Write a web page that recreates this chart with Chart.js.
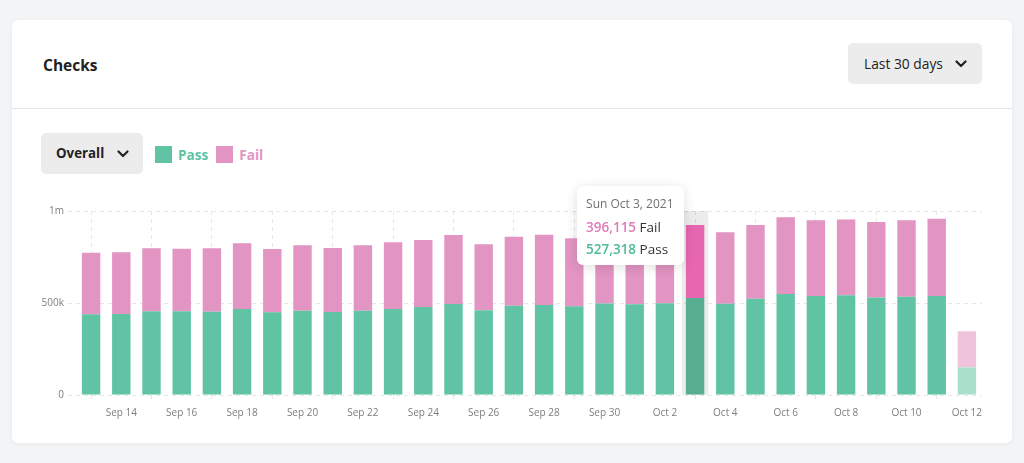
<!DOCTYPE html>
<html>
<head>
<meta charset="utf-8">
<script src="https://cdn.jsdelivr.net/npm/chart.js@4.4.0/dist/chart.umd.min.js"></script>
<style>
  html, body { margin: 0; padding: 0; }
  body {
    width: 1024px; height: 463px; overflow: hidden;
    background: #f3f4f6;
    font-family: 'Open Sans', 'Noto Sans', sans-serif;
    color: #222;
  }
  .card {
    position: absolute; left: 12px; top: 20px; width: 1000px; height: 423px;
    background: #fff; border-radius: 6px;
    box-shadow: 0 1px 4px rgba(0,0,0,0.05);
  }
  .title { position: absolute; left: 31px; top: 33px; font-size: 15.5px; font-weight: 700; line-height: 24px; }
  .divider { position: absolute; left: 0; right: 0; top: 88px; height: 1px; background: #e6e6e6; }
  .btn {
    position: absolute; height: 41px; line-height: 41px; background: #ececec;
    border-radius: 5px; box-sizing: border-box;
  }
  .btn svg { position: absolute; top: 17px; }
  .range { left: 836px; top: 23px; width: 134px; padding-left: 16px; font-size: 13.8px; font-weight: 500; }
  .range svg { left: 107px; }
  .overall { left: 29px; top: 113px; width: 102px; padding-left: 15px; font-size: 13.3px; font-weight: 700; }
  .overall svg { left: 76px; }
  .legend { position: absolute; left: 143px; top: 124px; height: 20px; display: flex; align-items: center; font-size: 13.6px; font-weight: 700; }
  .legend span.box { width: 17px; height: 17px; display: inline-block; margin-right: 6px; }
  .legend span.txt { margin-right: 8px; }
  .chart-wrap { position: absolute; left: 8px; top: 180px; width: 970px; height: 225px; }
  #tip {
    position: absolute; opacity: 0; background: #fff; border-radius: 6px;
    box-shadow: 0 2px 12px rgba(0,0,0,0.13); padding: 8px 10px 5px 9px;
    font-size: 13.5px; white-space: nowrap; pointer-events: none;
  }
  #tip .tip-title { color: #707070; font-size: 12px; line-height: 20px; margin-bottom: 2px; }
  #tip .tip-row { color: #333; line-height: 22px; }
  #tip b { font-weight: 600; }
</style>
</head>
<body>
<div class="card">
  <div class="title">Checks</div>
  <div class="btn range">Last 30 days
    <svg width="12" height="8" viewBox="0 0 12 8"><polyline points="1.5,1.5 6,6 10.5,1.5" fill="none" stroke="#222" stroke-width="2.2" stroke-linecap="round" stroke-linejoin="round"/></svg>
  </div>
  <div class="divider"></div>
  <div class="btn overall">Overall
    <svg width="12" height="8" viewBox="0 0 12 8"><polyline points="1.5,1.5 6,6 10.5,1.5" fill="none" stroke="#222" stroke-width="2.2" stroke-linecap="round" stroke-linejoin="round"/></svg>
  </div>
  <div class="legend" id="legend"></div>
  <div class="chart-wrap"><canvas id="checksChart"></canvas></div>
</div>
<div id="tip"></div>
<script>
// Dados do gráfico
const year = 2021;
const labels = ['Sep 13', 'Sep 14', 'Sep 15', 'Sep 16', 'Sep 17', 'Sep 18', 'Sep 19', 'Sep 20', 'Sep 21', 'Sep 22',
                'Sep 23', 'Sep 24', 'Sep 25', 'Sep 26', 'Sep 27', 'Sep 28', 'Sep 29', 'Sep 30', 'Oct 1', 'Oct 2',
                'Oct 3', 'Oct 4', 'Oct 5', 'Oct 6', 'Oct 7', 'Oct 8', 'Oct 9', 'Oct 10', 'Oct 11', 'Oct 12'];
const passValues = [438210, 440130, 455420, 454870, 453060, 467310, 449250, 458140, 451020, 457380,
                    467120, 478260, 495040, 460310, 485170, 489230, 482090, 497860, 493120, 498040,
                    527318, 496270, 523140, 549010, 538220, 542170, 529310, 534080, 538260, 150120];
const failValues = [335140, 335020, 342180, 340260, 344110, 357030, 344080, 355260, 348140, 356020,
                    363190, 364070, 375110, 359040, 374210, 382130, 370220, 362010, 361880, 372050,
                    396115, 388030, 401120, 417060, 411040, 411190, 411020, 415100, 419070, 196040];
const yTicks = [0, 500000, 1000000];
const yTickLabels = ['0', '500k', '1m'];
const highlightIndex = 20; // Oct 3

// Cores
const passColor = '#60c4a4', passHover = '#56ad90', passFaded = '#a9e0cc', passText = '#4dbb94';
const failColor = '#e294c2', failHover = '#e666b0', failFaded = '#f0c3dd', failText = '#e07bb8';
const gridColor = '#e6e6e6';
const lastIndex = labels.length - 1;

// Legenda
document.getElementById('legend').innerHTML =
  '<span class="box" style="background:' + passColor + '"></span><span class="txt" style="color:' + passColor + '">Pass</span>' +
  '<span class="box" style="background:' + failColor + '"></span><span class="txt" style="color:' + failColor + '">Fail</span>';

// Faixa cinza atrás da barra ativa
const hoverBand = {
  id: 'hoverBand',
  beforeDatasetsDraw(chart) {
    const active = chart.getActiveElements();
    if (!active.length) return;
    const xScale = chart.scales.x;
    const x = xScale.getPixelForValue(active[0].index);
    const w = xScale.width / labels.length * 0.87;
    const { ctx, chartArea } = chart;
    ctx.save();
    ctx.fillStyle = 'rgba(0,0,0,0.075)';
    ctx.fillRect(x - w / 2, chartArea.top, w, chartArea.bottom - chartArea.top);
    ctx.restore();
  }
};

// Tooltip em HTML
function externalTooltip(context) {
  const { chart, tooltip } = context;
  const el = document.getElementById('tip');
  if (tooltip.opacity === 0 || !tooltip.dataPoints) { el.style.opacity = 0; return; }
  const i = tooltip.dataPoints[0].dataIndex;
  const weekday = new Date(labels[i] + ', ' + year).toLocaleDateString('en-US', { weekday: 'short' });
  let html = '<div class="tip-title">' + weekday + ' ' + labels[i] + ', ' + year + '</div>';
  tooltip.dataPoints.slice().reverse().forEach(p => {
    const c = p.datasetIndex === 0 ? passText : failText;
    html += '<div class="tip-row"><b style="color:' + c + '">' + p.raw.toLocaleString('en-US') + '</b> ' + p.dataset.label + '</div>';
  });
  el.innerHTML = html;
  const rect = chart.canvas.getBoundingClientRect();
  el.style.opacity = 1;
  el.style.left = (rect.left + tooltip.caretX - el.offsetWidth - 12) + 'px';
  el.style.top = (rect.top + chart.chartArea.top - 25) + 'px';
}

Chart.defaults.font.family = "'Open Sans', 'Noto Sans', sans-serif";

const checksChart = new Chart(document.getElementById('checksChart').getContext('2d'), {
  type: 'bar',
  data: {
    labels: labels,
    datasets: [
      {
        label: 'Pass',
        data: passValues,
        backgroundColor: ctx => ctx.dataIndex === lastIndex ? passFaded : passColor,
        hoverBackgroundColor: passHover,
        categoryPercentage: 1,
        barPercentage: 0.61
      },
      {
        label: 'Fail',
        data: failValues,
        backgroundColor: ctx => ctx.dataIndex === lastIndex ? failFaded : failColor,
        hoverBackgroundColor: failHover,
        categoryPercentage: 1,
        barPercentage: 0.61
      }
    ]
  },
  options: {
    responsive: true,
    maintainAspectRatio: false,
    animation: false,
    events: [],
    layout: { padding: { top: 11, right: 8, left: 0, bottom: 0 } },
    interaction: { mode: 'index', intersect: false },
    plugins: {
      legend: { display: false },
      tooltip: { enabled: false, external: externalTooltip }
    },
    scales: {
      x: {
        stacked: true,
        afterFit: scale => { scale.height = 30; },
        grid: {
          offset: false,
          color: ctx => ctx.index % 2 === 0 ? gridColor : 'rgba(0,0,0,0)',
          tickLength: 8,
          tickBorderDash: [4, 4]
        },
        border: { display: false, dash: [4, 4] },
        ticks: {
          autoSkip: false,
          maxRotation: 0,
          minRotation: 0,
          padding: 4,
          color: '#7d7d7d',
          font: { size: 10 },
          callback: (value, index) => index % 2 === 1 ? labels[index] : ''
        }
      },
      y: {
        stacked: true,
        min: 0,
        max: 1000000,
        afterFit: scale => { scale.width = 56; },
        afterBuildTicks: scale => { scale.ticks = yTicks.map(v => ({ value: v })); },
        grid: { color: gridColor, tickLength: 8, tickBorderDash: [4, 4] },
        border: { display: false, dash: [4, 4] },
        ticks: {
          padding: 4,
          color: '#7d7d7d',
          font: { size: 10 },
          callback: value => yTickLabels[yTicks.indexOf(value)]
        }
      }
    }
  },
  plugins: [hoverBand]
});

// Barra de Oct 3 em destaque com tooltip
const activeEls = [{ datasetIndex: 0, index: highlightIndex }, { datasetIndex: 1, index: highlightIndex }];
checksChart.setActiveElements(activeEls);
checksChart.tooltip.setActiveElements(activeEls, { x: 0, y: 0 });
checksChart.update();
</script>
</body>
</html>
